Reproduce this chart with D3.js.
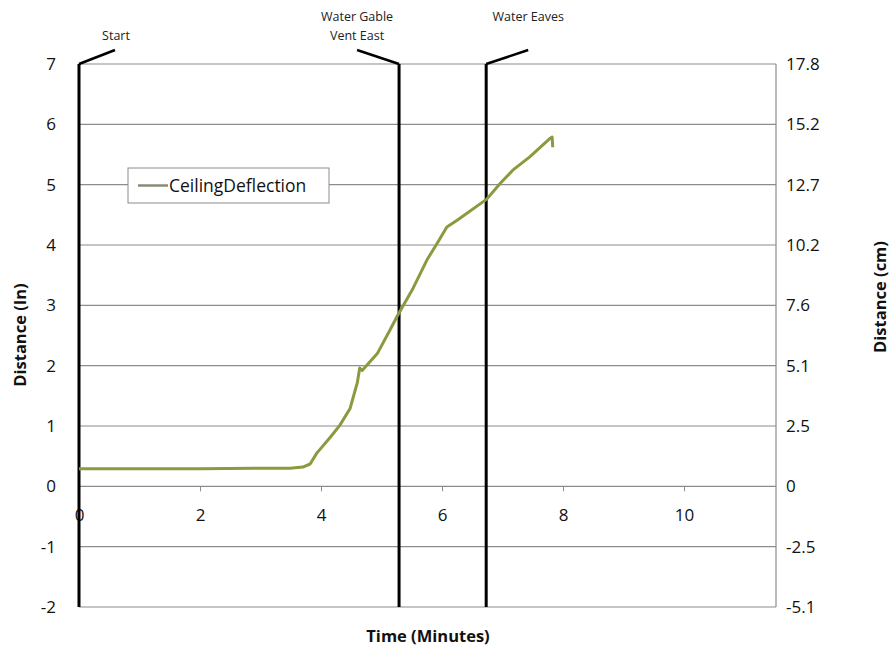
<!DOCTYPE html>
<html><head><meta charset="utf-8">
<script src="https://cdn.jsdelivr.net/npm/d3@7"></script>
<style>body{margin:0;background:#fff}svg{display:block}text{font-family:"Open Sans",sans-serif}</style>
</head><body>
<svg id="c" width="896" height="654"></svg>
<script>
const times =      [0, 1, 2, 3, 3.49, 3.7, 3.82, 3.93, 4.15, 4.31, 4.48, 4.60, 4.64, 4.68, 4.93, 5.14, 5.27, 5.52, 5.75, 5.92, 6.08, 6.25, 6.74, 6.96, 7.17, 7.45, 7.79, 7.82, 7.83];
const deflection = [0.29, 0.29, 0.29, 0.30, 0.30, 0.32, 0.37, 0.55, 0.81, 1.01, 1.29, 1.72, 1.96, 1.92, 2.20, 2.59, 2.84, 3.28, 3.75, 4.03, 4.30, 4.41, 4.76, 5.02, 5.24, 5.46, 5.77, 5.79, 5.62];
const leftTicks = [-2, -1, 0, 1, 2, 3, 4, 5, 6, 7];
const rightTickLabels = ["-5.1", "-2.5", "0", "2.5", "5.1", "7.6", "10.2", "12.7", "15.2", "17.8"];
const xTicks = [0, 2, 4, 6, 8, 10];
const eventTimes = [0, 5.29, 6.73];
const eventLabels = [["Start"], ["Water Gable", "Vent East"], ["Water Eaves"]];
const seriesName = "CeilingDeflection";

const svg = d3.select("#c");
const L = 79, R = 776, T = 64, B = 607;
const x = d3.scaleLinear().domain([0, 11.52]).range([L, R]);
const y = d3.scaleLinear().domain([-2, 7]).range([B, T]);
const yR = d3.scaleLinear().domain([-2 * 2.54, 7 * 2.54]).range([B, T]);

// gridlines
svg.append("g").selectAll("line").data(leftTicks).join("line")
  .attr("x1", L).attr("x2", R).attr("y1", d => y(d)).attr("y2", d => y(d))
  .attr("stroke", "#8c8c8c").attr("stroke-width", 1.2);
// right border
svg.append("line").attr("x1", R).attr("x2", R).attr("y1", T).attr("y2", B)
  .attr("stroke", "#8c8c8c").attr("stroke-width", 1.2);

// left axis labels
const yAxisL = d3.axisLeft(y).tickValues(leftTicks).tickFormat(d => String(d)).tickSize(0).tickPadding(0);
const gL = svg.append("g").attr("transform", `translate(56,0)`).call(yAxisL);
gL.select(".domain").remove();
gL.selectAll("text").attr("font-size", 17).attr("fill", "#111").attr("font-family", "Open Sans");

// right axis labels
const yAxisR = d3.axisRight(yR).tickValues(leftTicks.map(d => d * 2.54)).tickFormat((d, i) => rightTickLabels[i]).tickSize(0).tickPadding(0);
const gR = svg.append("g").attr("transform", `translate(786,0)`).call(yAxisR);
gR.select(".domain").remove();
gR.selectAll("text").attr("font-size", 17).attr("fill", "#111").attr("font-family", "Open Sans");

// x axis at zero
const xAxis = d3.axisBottom(x).tickValues(xTicks).tickFormat(d => String(d)).tickSize(5).tickPadding(18);
const gX = svg.append("g").attr("transform", `translate(0,${y(0)})`).call(xAxis);
gX.select(".domain").remove();
gX.selectAll(".tick line").attr("stroke", "#8c8c8c");
gX.selectAll("text").attr("font-size", 17).attr("fill", "#111").attr("font-family", "Open Sans");

// event lines
const ev = svg.append("g");
eventTimes.forEach((t, i) => {
  const ex = x(t);
  ev.append("line").attr("x1", ex).attr("x2", ex).attr("y1", T).attr("y2", B)
    .attr("stroke", "#000").attr("stroke-width", 3);
});
const diag = [{dx: 36}, {dx: -42}, {dx: 42}];
eventTimes.forEach((t, i) => {
  const ex = x(t);
  ev.append("line").attr("x1", ex).attr("y1", T).attr("x2", ex + diag[i].dx).attr("y2", T - 14)
    .attr("stroke", "#000").attr("stroke-width", 2.5);
  const lines = eventLabels[i];
  const cx = ex + diag[i].dx + (i === 0 ? 1 : 0);
  const y0 = lines.length === 1 ? (i === 0 ? 40 : 21) : 21;
  lines.forEach((s, j) => {
    ev.append("text").attr("x", cx).attr("y", y0 + j * 19).attr("text-anchor", "middle")
      .attr("font-size", 12.5).attr("fill", "#222").text(s);
  });
});

// series line
const line = d3.line().x((d, i) => x(times[i])).y(d => y(d));
svg.append("path").datum(deflection).attr("d", line).attr("fill", "none")
  .attr("stroke", "#8a9a3e").attr("stroke-width", 3).attr("stroke-linejoin", "round");

// legend
const lg = svg.append("g");
lg.append("rect").attr("x", 128).attr("y", 168).attr("width", 201).attr("height", 35)
  .attr("fill", "#fff").attr("stroke", "#8c8c8c").attr("stroke-width", 1);
lg.append("line").attr("x1", 138).attr("x2", 168).attr("y1", 185.5).attr("y2", 185.5)
  .attr("stroke", "#8a8a78").attr("stroke-width", 2.5);
lg.append("text").attr("x", 169).attr("y", 192).attr("font-size", 17.5).attr("fill", "#111").text(seriesName);

// axis titles
svg.append("text").attr("transform", `translate(26,335) rotate(-90)`).attr("text-anchor", "middle")
  .attr("font-size", 16.5).attr("font-weight", "bold").attr("fill", "#111").text("Distance (In)");
svg.append("text").attr("transform", `translate(886,297) rotate(-90)`).attr("text-anchor", "middle")
  .attr("font-size", 16.5).attr("font-weight", "bold").attr("fill", "#111").text("Distance (cm)");
svg.append("text").attr("x", 428).attr("y", 642).attr("text-anchor", "middle")
  .attr("font-size", 16.5).attr("font-weight", "bold").attr("fill", "#111").text("Time (Minutes)");
</script>
</body></html>
